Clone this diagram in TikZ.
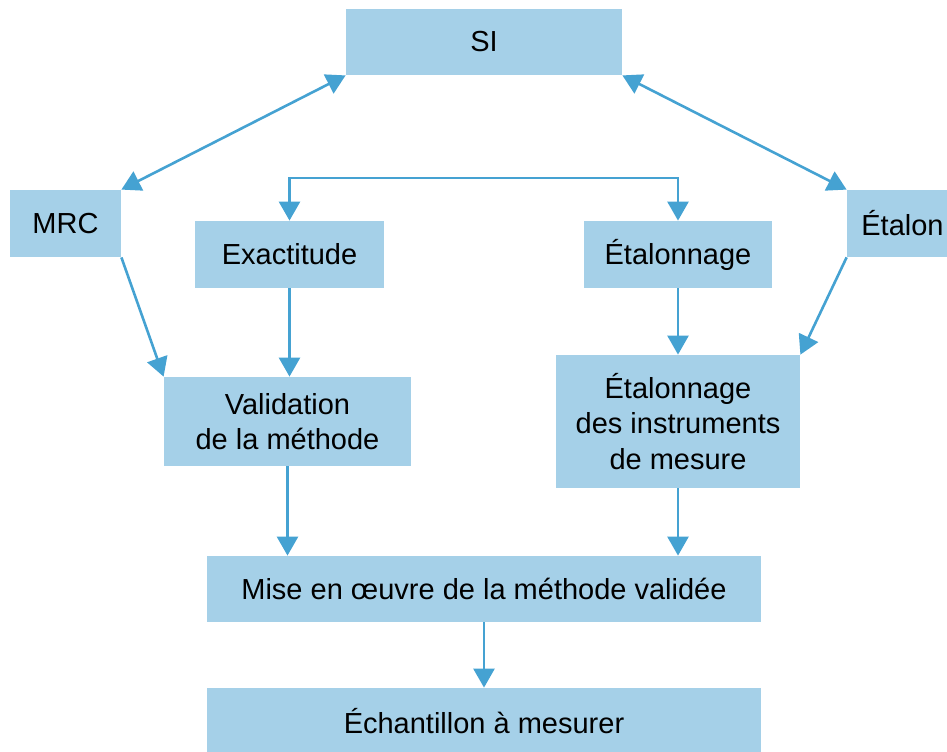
\documentclass[tikz,border=0pt]{standalone}
\usepackage{fontspec}
\setmainfont{Liberation Sans}
\usepackage{xcolor}
\usepackage{tikz}
\usetikzlibrary{arrows.meta, positioning}

\definecolor{boxblue}{HTML}{A5D0E8}
\definecolor{arrowblue}{HTML}{45A2D2}

\begin{document}
\begin{tikzpicture}[
    x=0.5pt, y=-0.5pt,
    >={Triangle[length=9.5pt,width=10.5pt]},
    box/.style={rectangle, fill=boxblue, inner sep=2pt, align=center, font=\fontsize{14.5}{17.6}\selectfont},
    link/.style={draw=arrowblue, line width=1.3pt, arrowblue}
]

\useasboundingbox (0,0) rectangle (947,751);

% Top
\node[box, minimum width=138pt, minimum height=33pt] (si) at (484,42) {SI};

% Sides
\node[box, minimum width=55.5pt, minimum height=33.5pt] (mrc) at (65.5,223.5) {MRC};
\node[box, minimum width=55.5pt, minimum height=33.5pt] (etalon) at (902.5,223.5) {Étalon};

% Middle row
\node[box, minimum width=94.5pt, minimum height=33.5pt] (exact) at (289.5,254.5) {Exactitude};
\node[box, minimum width=94pt, minimum height=33.5pt] (etalonnage) at (678,254.5) {Étalonnage};

\node[box, minimum width=123.5pt, minimum height=44.5pt] (valid) at (287.5,421.5) {Validation\\de la méthode};
\node[box, minimum width=122pt, minimum height=66.5pt] (instr) at (678,421.5) {Étalonnage\\des instruments\\de mesure};

% Bottom
\node[box, minimum width=277pt, minimum height=33pt] (mise) at (484,589) {Mise en œuvre de la méthode validée};
\node[box, minimum width=277pt, minimum height=33pt] (echant) at (484,721) {Échantillon à mesurer};

\coordinate (bar) at (484,178);

% Connections
\draw[link, <->] (mrc.north east) -- (si.south west);
\draw[link, <->] (etalon.north west) -- (si.south east);
\draw[link, <->] (exact.north) |- (bar) -| (etalonnage.north);

\draw[link, ->] (mrc.south east) -- (valid.north west);
\draw[link, ->] (etalon.south west) -- (instr.north east);
\draw[link, ->] (exact.south) -- (exact.south |- valid.north);
\draw[link, ->] (etalonnage.south) -- (instr.north);

\draw[link, ->] (valid.south) -- (valid.south |- mise.north);
\draw[link, ->] (instr.south) -- (instr.south |- mise.north);
\draw[link, ->] (mise.south) -- (echant.north);

\end{tikzpicture}
\end{document}
